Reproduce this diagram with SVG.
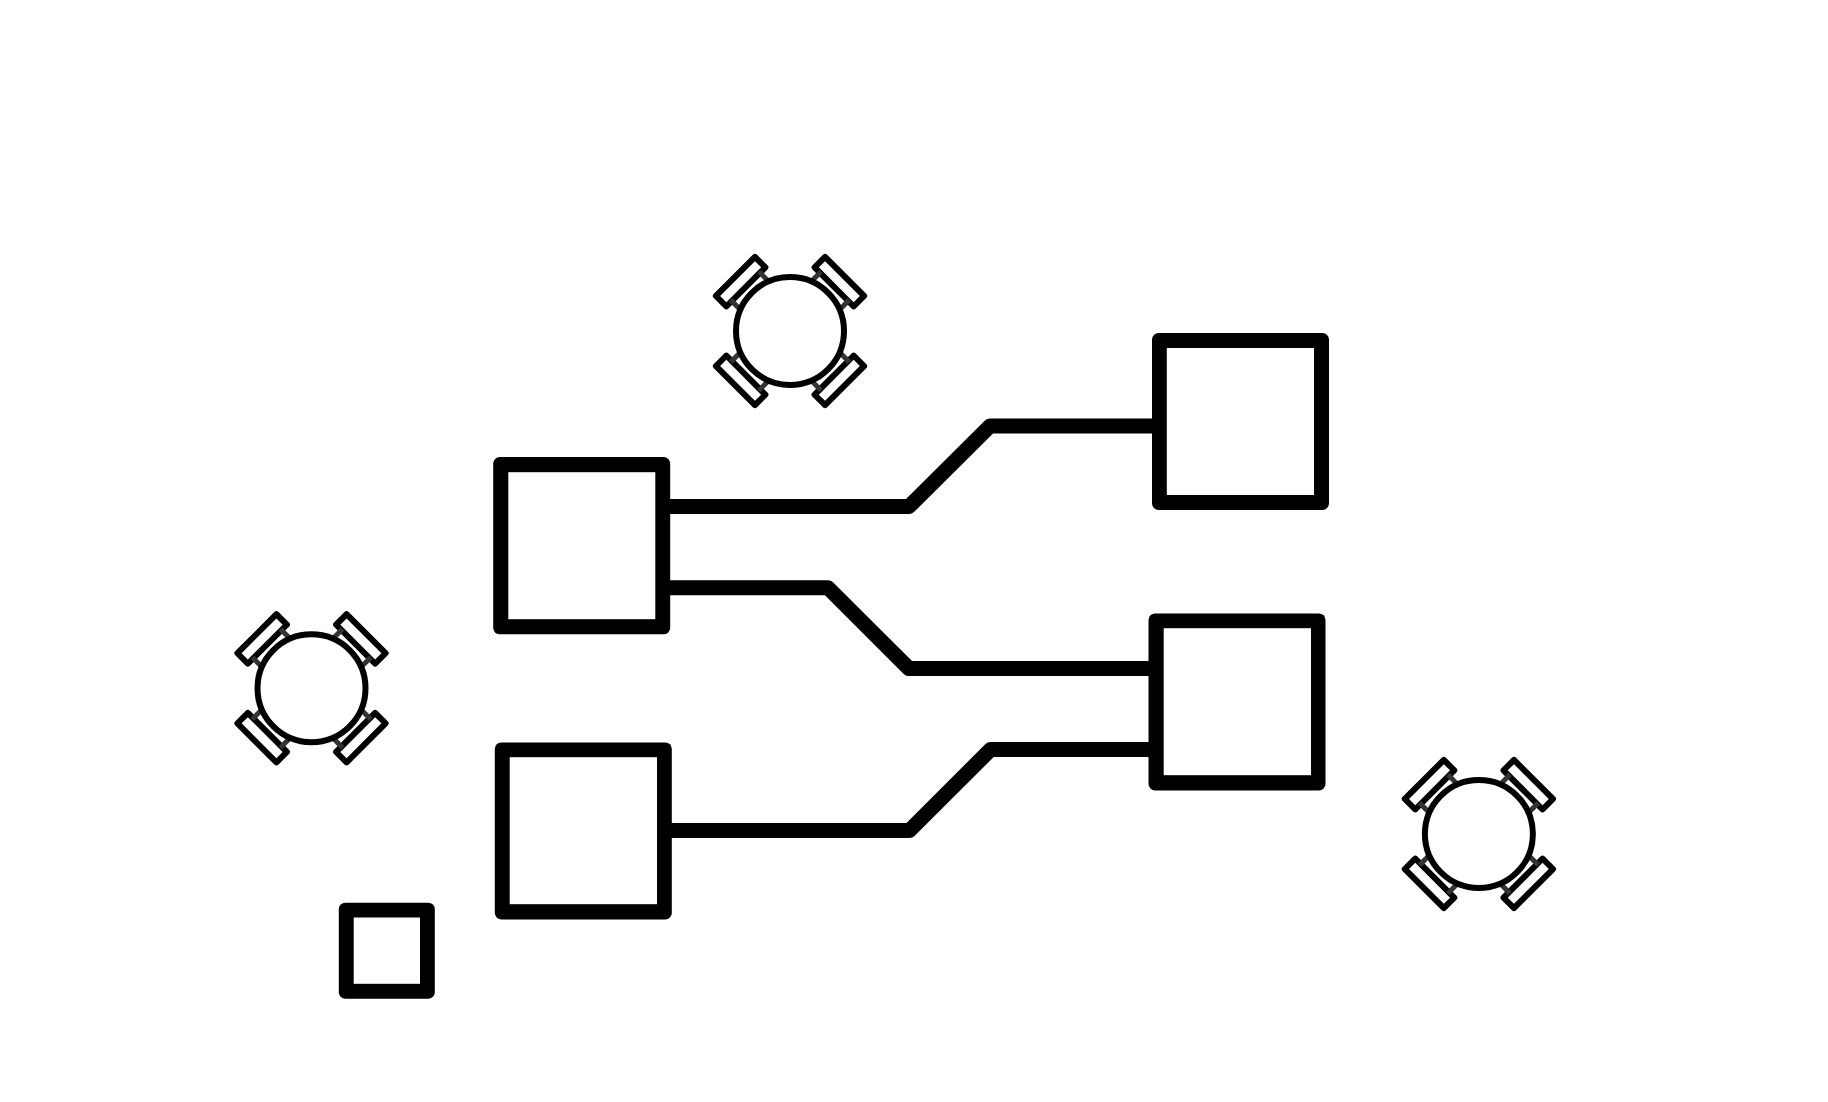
<svg xmlns="http://www.w3.org/2000/svg" width="1828" height="1102" viewBox="0 0 1828 1102">
<style>
.outer{fill:#000;stroke:none}
.inner{fill:#fff;stroke:none}
.wire{fill:none;stroke:#000;stroke-width:15;stroke-linejoin:round}
.top{fill:#fff;stroke:#000;stroke-width:6}
.seat{fill:#fff;stroke:#000;stroke-width:6;stroke-linejoin:round}
.leg{fill:none;stroke:#333;stroke-width:5}
</style>
<defs>
<g id="chair">
<rect class="seat" x="-27.6" y="-77.2" width="55.2" height="14.8"/>
<path class="leg" d="M-20-64V-49M20-64V-49"/>
</g>
<g id="table">
<use href="#chair" transform="rotate(45)"/>
<use href="#chair" transform="rotate(135)"/>
<use href="#chair" transform="rotate(225)"/>
<use href="#chair" transform="rotate(315)"/>
<circle class="top" r="54"/>
</g>
</defs>
<rect width="1828" height="1102" fill="#fff"/>
<g id="connectors">
<path class="wire" d="M663 506.5H909L990 426H1160"/>
<path class="wire" d="M663 587.7H828L909 668.6H1156"/>
<path class="wire" d="M664 830.5H909.5L990.5 749.6H1156"/>
</g>
<g id="box-a"><rect class="outer" x="493.2" y="457" width="177" height="177.3" rx="6.5"/><rect class="inner" x="508.3" y="472.2" width="147" height="147"/></g>
<g id="box-b"><rect class="outer" x="1152" y="333" width="177" height="177" rx="6.5"/><rect class="inner" x="1166.8" y="348" width="147.2" height="147"/></g>
<g id="box-c"><rect class="outer" x="1148.5" y="613.4" width="177" height="177" rx="6.5"/><rect class="inner" x="1163.7" y="628.2" width="147.3" height="147"/></g>
<g id="box-d"><rect class="outer" x="494.8" y="742.4" width="177" height="177" rx="6.5"/><rect class="inner" x="509.7" y="757.2" width="147.3" height="147"/></g>
<g id="box-e"><rect class="outer" x="338.8" y="902.7" width="96" height="96" rx="6.5"/><rect class="inner" x="353.7" y="917.5" width="66.3" height="66.3"/></g>
<g id="table-1"><use href="#table" x="790" y="331"/></g>
<g id="table-2"><use href="#table" x="311.5" y="688.3"/></g>
<g id="table-3"><use href="#table" x="1478.9" y="834"/></g>
</svg>
